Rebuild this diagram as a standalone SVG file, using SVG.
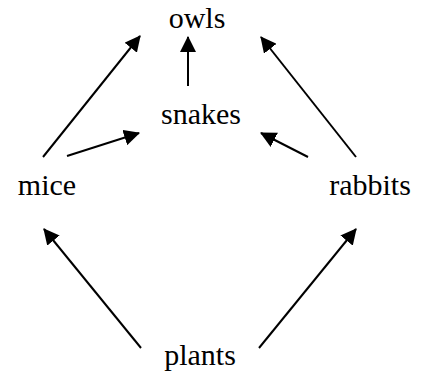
<svg xmlns="http://www.w3.org/2000/svg" width="421" height="373" viewBox="0 0 421 373">
<style>
.lbl{font-family:"Liberation Serif","Times New Roman",serif;font-size:30px;fill:#000;text-anchor:middle}
.edge{stroke:#000;stroke-width:2;fill:none;marker-end:url(#ah)}
</style>
<defs>
<marker id="ah" markerUnits="userSpaceOnUse" markerWidth="16" markerHeight="16" viewBox="0 0 15 15" refX="14" refY="7.5" orient="auto">
<path d="M0,0 L15,7.5 L0,15 z" fill="#000"/>
</marker>
</defs>
<rect width="421" height="373" fill="#fff"/>
<g id="connectors">
<line class="edge" x1="188" y1="86" x2="188" y2="37"/>
<line class="edge" x1="43" y1="157" x2="140" y2="36"/>
<line class="edge" x1="67" y1="156" x2="139" y2="133"/>
<line class="edge" x1="356" y1="157" x2="261" y2="37"/>
<line class="edge" x1="308" y1="157" x2="261" y2="133"/>
<line class="edge" x1="141" y1="348" x2="44" y2="229"/>
<line class="edge" x1="259" y1="348" x2="356" y2="229"/>
</g>
<g id="owls"><text class="lbl" x="197" y="28">owls</text></g>
<g id="snakes"><text class="lbl" x="201" y="124">snakes</text></g>
<g id="mice"><text class="lbl" x="47" y="195">mice</text></g>
<g id="rabbits"><text class="lbl" x="370" y="195">rabbits</text></g>
<g id="plants"><text class="lbl" x="200" y="365">plants</text></g>
</svg>
